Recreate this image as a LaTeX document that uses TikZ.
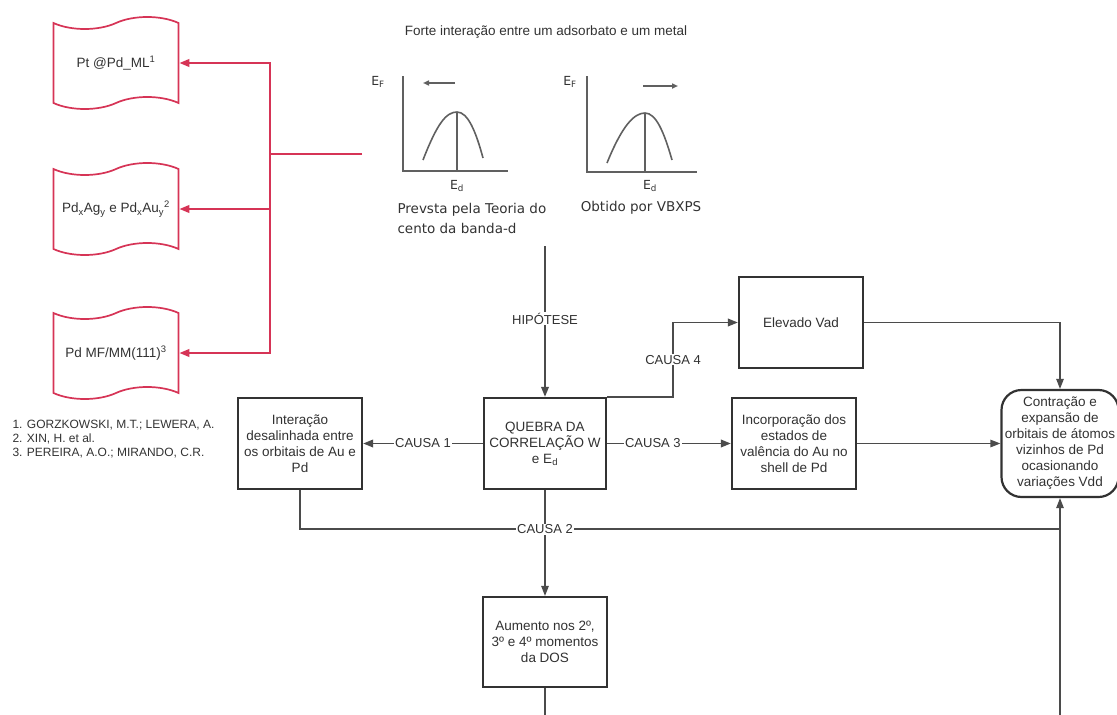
\documentclass[tikz,border=0pt]{standalone}
\usepackage{fontspec}
\setmainfont{Liberation Sans}
\newfontfamily\dejavu{DejaVu Sans}
\usetikzlibrary{positioning, shapes.symbols, arrows.meta}
\definecolor{refred}{RGB}{214,52,86}
\definecolor{boxgray}{RGB}{50,50,50}
\definecolor{linegray}{RGB}{75,75,75}

\begin{document}
\begin{tikzpicture}[x=1pt, y=-1pt, >={Triangle[length=10pt,width=7.5pt]},
    every node/.style={align=center, text=boxgray},
    box/.style={draw=boxgray, line width=2.2pt, fill=white, minimum width=124pt, minimum height=91pt, inner sep=2pt, font=\fontsize{13.5}{16}\selectfont},
    doc/.style={tape, draw=refred, line width=1.7pt, minimum width=125pt, minimum height=92pt, tape bend height=12pt, font=\fontsize{13.5}{15}\selectfont},
    lbl/.style={fill=white, inner sep=1pt, font=\fontsize{13}{15}\selectfont},
    link/.style={->, draw=linegray, line width=1.9pt},
    thinlink/.style={draw=linegray, line width=1.2pt},
    axis/.style={draw=gray!75!black, line width=1.6pt},
    redlink/.style={->, draw=refred, line width=2.2pt}]
    \useasboundingbox (0,0) rectangle (1117,715);

    % Reference documents
    \node (doc1) [doc] at (116,63) {Pt @Pd\_ML\textsuperscript{1}};
    \node (doc2) [doc] at (116,209) {Pd\textsubscript{x}Ag\textsubscript{y} e Pd\textsubscript{x}Au\textsubscript{y}\textsuperscript{2}};
    \node (doc3) [doc] at (116,353) {Pd MF/MM(111)\textsuperscript{3}};
    \node (refs) [anchor=west, align=left, font=\fontsize{12}{14}\selectfont] at (9,439)
        {1. GORZKOWSKI, M.T.; LEWERA, A.\\2. XIN, H. et al.\\3. PEREIRA, A.O.; MIRANDO, C.R.};

    \coordinate (src) at (362,154);
    \coordinate (hub) at (270,154);
    \draw[refred, line width=2.2pt] (src) -- (hub);
    \draw[redlink] (hub) |- (doc1.east);
    \draw[redlink] (hub) |- (doc2.east);
    \draw[redlink] (hub) |- (doc3.east);

    % d-band sketches
    \node (title) [font=\fontsize{13.5}{16}\selectfont] at (546,32) {Forte interação entre um adsorbato e um metal};

    \draw[axis] (403,76) |- (508,171);
    \draw[axis] (423,160) .. controls (437,124) and (446,112) .. (457,112) .. controls (468,112) and (476,132) .. (483,158);
    \draw[axis] (457,112) -- (457,170);
    \draw[axis, -{Triangle[length=6pt,width=5pt]}] (455,83) -- (423,83);
    \node (ef1) [font=\dejavu\fontsize{12.5}{14}\selectfont] at (378,82) {E\textsubscript{F}};
    \node (ed1) [font=\dejavu\fontsize{12.5}{14}\selectfont] at (457,186) {E\textsubscript{d}};
    \node (cap1) [anchor=west, align=left, font=\dejavu\fontsize{13.5}{20}\selectfont] at (394,218) {Prevsta pela Teoria do\\cento da banda-d};

    \draw[axis] (587,76) |- (697,172);
    \draw[axis] (607,163) .. controls (622,126) and (634,113) .. (645,113) .. controls (656,113) and (664,132) .. (672,160);
    \draw[axis] (645,113) -- (645,171);
    \draw[axis, -{Triangle[length=6pt,width=5pt]}] (643,86) -- (678,86);
    \node (ef2) [font=\dejavu\fontsize{12.5}{14}\selectfont] at (570,82) {E\textsubscript{F}};
    \node (ed2) [font=\dejavu\fontsize{12.5}{14}\selectfont] at (650,186) {E\textsubscript{d}};
    \node (cap2) [font=\dejavu\fontsize{13.5}{20}\selectfont] at (641,208) {Obtido por VBXPS};

    % Main flow
    \node (quebra) [box, minimum width=122pt] at (545,443.5) {QUEBRA DA\\CORRELAÇÃO W\\e E\textsubscript{d}};
    \node (inter) [box] at (300,443.5) {Interação\\desalinhada entre\\os orbitais de Au e\\Pd};
    \node (incorp) [box] at (794,443.5) {Incorporação dos\\estados de\\valência do Au no\\shell de Pd};
    \node (elev) [box] at (801,322.5) {Elevado Vad};
    \node (aum) [box, minimum height=90pt] at (545,642) {Aumento nos 2º,\\3º e 4º momentos\\da DOS};
    \node (contr) [draw=boxgray, line width=2.2pt, rounded corners=20pt, minimum width=117pt, minimum height=107pt, inner sep=1pt, font=\fontsize{13.5}{16}\selectfont] at (1060,443.5)
        {Contração e\\expansão de\\orbitais de átomos\\vizinhos de Pd\\ocasionando\\variações Vdd};

    \coordinate (hyp) at (545,246);
    \coordinate (join) at (1060,529);
    \coordinate (loopin) at (1060,715);
    \coordinate (aumout) at (545,715);

    \draw[link] (hyp) -- node[lbl, pos=0.48] {HIPÓTESE} (quebra.north);
    \draw[link] (quebra.west) -- node[lbl] {CAUSA 1} (inter.east);
    \draw[link] (quebra.east) -- node[lbl, pos=0.37] {CAUSA 3} (incorp.west);
    \draw[link] (quebra.north east) -- ++(66,0) |- node[lbl, pos=0.25] {CAUSA 4} (elev.west);
    \draw[thinlink] (inter.south) |- (join);
    \draw[thinlink, ->] (quebra.south) -- node[lbl, pos=0.37] {CAUSA 2} (aum.north);
    \draw[thinlink, ->] (elev.east) -| (contr.north);
    \draw[thinlink, ->] (incorp.east) -- (contr.west);
    \draw[thinlink, ->] (loopin) -- (contr.south);
    \draw[thinlink] (aum.south) -- (aumout);
\end{tikzpicture}
\end{document}
